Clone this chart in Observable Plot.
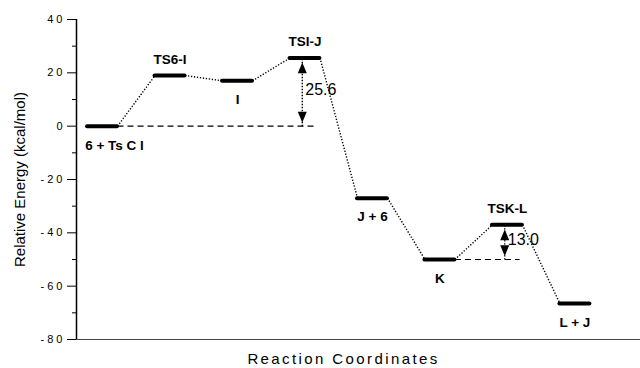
<!DOCTYPE html>
<html><head><meta charset="utf-8">
<script src="https://cdn.jsdelivr.net/npm/d3@7"></script>
<script src="https://cdn.jsdelivr.net/npm/@observablehq/plot@0.6"></script>
<style>
body{margin:0;background:#fff}
#chart svg{display:block;font-family:"Liberation Sans",Arial,sans-serif;background:#fff}
g[aria-label="y-axis tick label"]{letter-spacing:3px}
</style></head><body><div id="chart"></div>
<script>
const species = ["6 + Ts C l","TS6-I","I","TSI-J","J + 6","K","TSK-L","L + J"];
const energies = [0,19,17,25.6,-27,-50,-37,-66.5];
const labelSide = ["below","above","below","above","below","below","above","below"];
const barrierFrom = ["6 + Ts C l","K"];
const barrierTo = ["TSI-J","TSK-L"];
const barrierLabels = ["25.6","13.0"];
const yTicks = [-80,-60,-40,-20,0,20,40];
const yMinorTicks = [-70,-50,-30,-10,10,30];
const yTitle = "Relative Energy (kcal/mol)";
const xTitle = "Reaction Coordinates";

const xDomain = [0.614, 8.972];
const half = 0.222;
const levels = species.map((s,i)=>({s, pos:i+1, e:energies[i], side:labelSide[i]}));
const byName = Object.fromEntries(levels.map(d=>[d.s,d]));
const links = levels.slice(0,-1).map((d,i)=>({x1:d.pos+half, y1:d.e, x2:levels[i+1].pos-half, y2:levels[i+1].e}));
const barriers = barrierFrom.map((f,i)=>{
  const a = byName[f], b = byName[barrierTo[i]];
  return {x1:a.pos+half, x2:b.pos+0.18, ax:b.pos-0.04, y0:a.e, y1:b.e, mid:(a.e+b.e)/2, label:barrierLabels[i]};
});
const first = levels.slice(0,1), rest = levels.slice(1);

// narrow arrow-head triangle (tip up), scaled by dot radius
const head = {draw(ctx, size){
  const k = Math.sqrt(size/Math.PI)/4;
  ctx.moveTo(0,-5*k); ctx.lineTo(4.2*k,5*k); ctx.lineTo(-4.2*k,5*k); ctx.closePath();
}};

const chart = Plot.plot({
  width:640, height:368,
  marginLeft:76, marginRight:0, marginTop:19, marginBottom:29,
  x:{domain:xDomain, axis:null},
  y:{domain:[-80,40], axis:null},
  marks:[
    Plot.axisY({ticks:yTicks, tickSize:9, tickPadding:2, fontSize:11, label:null, stroke:"#000", color:"#000", tickFormat:d=>String(d)}),
    Plot.axisY({ticks:yMinorTicks, tickSize:4, tickFormat:()=>"", label:null, stroke:"#000"}),
    Plot.ruleX([xDomain[0]], {stroke:"#000", strokeWidth:1.5}),
    Plot.ruleY([-80], {stroke:"#444", strokeWidth:1.2}),
    Plot.link(links, {x1:"x1", y1:"y1", x2:"x2", y2:"y2", stroke:"#000", strokeWidth:1.4, strokeDasharray:"1.3,1.7"}),
    Plot.link(barriers, {x1:"x1", x2:"x2", y1:"y0", y2:"y0", stroke:"#000", strokeWidth:1.2, strokeDasharray:"6,4"}),
    Plot.link(barriers, {x1:"ax", x2:"ax", y1:"y0", y2:"y1", stroke:"#000", strokeWidth:1.4, strokeDasharray:"1.3,1.7"}),
    Plot.dot(barriers, {x:"ax", y:"y1", symbol:head, r:4.3, fill:"#000", stroke:null, dy:10}),
    Plot.dot(barriers, {x:"ax", y:"y0", symbol:head, r:4.3, fill:"#000", stroke:null, rotate:180, dy:-9}),
    Plot.text(barriers, {x:"ax", y:"mid", text:"label", textAnchor:"start", dx:3, dy:-2, fontSize:16, fill:"#000"}),
    Plot.ruleY(levels, {y:"e", x1:d=>d.pos-half, x2:d=>d.pos+half, stroke:"#000", strokeWidth:4, strokeLinecap:"round"}),
    Plot.text(rest.filter(d=>d.side==="above"), {x:"pos", y:"e", text:"s", dy:-16, fontSize:13.5, fontWeight:"bold", fill:"#000"}),
    Plot.text(rest.filter(d=>d.side==="below"), {x:"pos", y:"e", text:"s", dy:19, fontSize:13.5, fontWeight:"bold", fill:"#000"}),
    Plot.text(first, {x:"pos", y:"e", text:"s", dy:20, dx:12, fontSize:13.5, fontWeight:"bold", fill:"#000"}),
    Plot.text([yTitle], {frameAnchor:"left", textAnchor:"middle", lineAnchor:"middle", dx:-56, rotate:-90, fontSize:15, fill:"#000"}),
    Plot.text([xTitle], {frameAnchor:"bottom", textAnchor:"middle", lineAnchor:"middle", dy:20, dx:-15, fontSize:15, fill:"#000"})
  ]
});
d3.select(chart).selectAll("text").filter(function(){ return this.textContent === xTitle; })
  .style("letter-spacing", "2.4px");
document.getElementById("chart").appendChild(chart);
</script></body></html>
